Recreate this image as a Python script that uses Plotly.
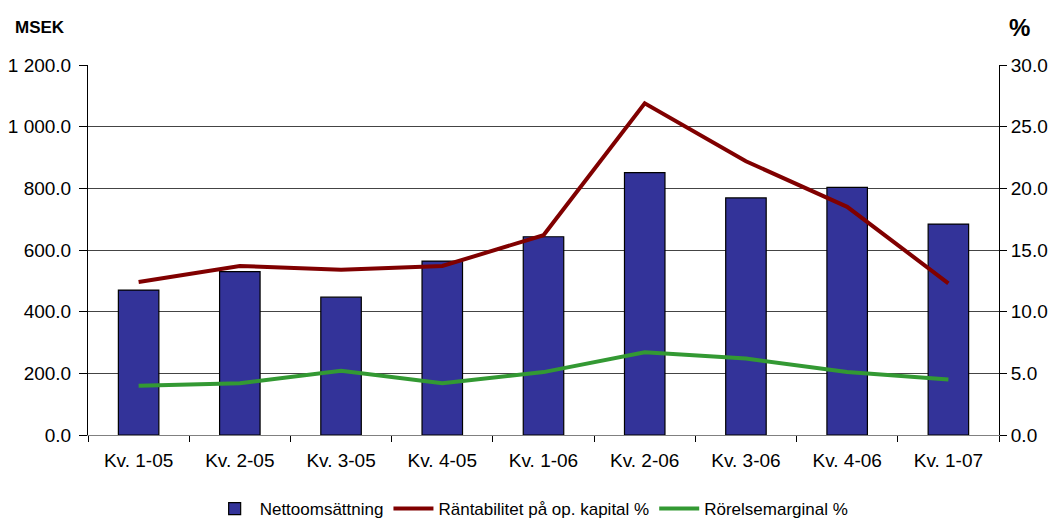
import plotly.graph_objects as go

categories = ["Kv. 1-05", "Kv. 2-05", "Kv. 3-05", "Kv. 4-05", "Kv. 1-06",
              "Kv. 2-06", "Kv. 3-06", "Kv. 4-06", "Kv. 1-07"]
nettoomsattning = [470, 530, 447, 564, 643, 851, 769, 803, 684]
rantabilitet = [12.4, 13.7, 13.4, 13.7, 16.2, 26.9, 22.2, 18.5, 12.3]
rorelsemarginal = [4.0, 4.2, 5.2, 4.2, 5.1, 6.7, 6.2, 5.1, 4.5]

font = "Liberation Sans, Arial, sans-serif"

fig = go.Figure()
fig.add_trace(go.Bar(
    x=categories, y=nettoomsattning, name="Nettoomsättning",
    marker=dict(color="#333399", line=dict(color="#000000", width=1.2)),
    width=0.4, yaxis="y"))
fig.add_trace(go.Scatter(
    x=categories, y=rantabilitet, name="Räntabilitet på op. kapital %",
    mode="lines", line=dict(color="#800000", width=4), yaxis="y2"))
fig.add_trace(go.Scatter(
    x=categories, y=rorelsemarginal, name="Rörelsemarginal %",
    mode="lines", line=dict(color="#339933", width=4), yaxis="y2"))

fig.update_layout(
    width=1052, height=522,
    margin=dict(l=88, r=53, t=65, b=87, autoexpand=False),
    paper_bgcolor="white", plot_bgcolor="white",
    separators=". ",
    font=dict(family=font, size=19, color="#000000"),
    showlegend=True,
    legend=dict(orientation="h", x=0.487, xanchor="center", y=-0.2, yanchor="middle",
                font=dict(size=17, family=font), itemwidth=40,
                traceorder="normal", bgcolor="rgba(0,0,0,0)"),
    xaxis=dict(type="category", showgrid=False, showline=True, linecolor="#808080",
               linewidth=1, ticks="outside", tickson="boundaries", ticklen=6,
               tickcolor="#000000", tickfont=dict(size=19, family=font),
               ticklabelstandoff=8, automargin=False),
    yaxis=dict(range=[0, 1200], dtick=200, tickformat=",.1f", showgrid=True,
               gridcolor="#444444", gridwidth=1, showline=True, linecolor="#000000",
               linewidth=1, ticks="outside", ticklen=8, tickcolor="#000000",
               zeroline=False, tickfont=dict(size=19, family=font),
               ticklabelstandoff=4, automargin=False),
    yaxis2=dict(range=[0, 30], dtick=5, tickformat=".1f", overlaying="y", side="right",
                showgrid=False, showline=True, linecolor="#000000", linewidth=1,
                ticks="outside", ticklen=7, tickcolor="#000000", zeroline=False,
                tickfont=dict(size=19, family=font), automargin=False),
    annotations=[
        dict(text="<b>MSEK</b>", xref="paper", yref="paper", x=-0.082, y=1.101,
             xanchor="left", yanchor="middle", showarrow=False,
             font=dict(size=17, family=font)),
        dict(text="<b>%</b>", xref="paper", yref="paper", x=1.009, y=1.1,
             xanchor="left", yanchor="middle", showarrow=False,
             font=dict(size=24, family=font)),
    ],
)

fig.write_html("out.html", config={"displayModeBar": False},
               post_script="document.body.style.margin='0';")
